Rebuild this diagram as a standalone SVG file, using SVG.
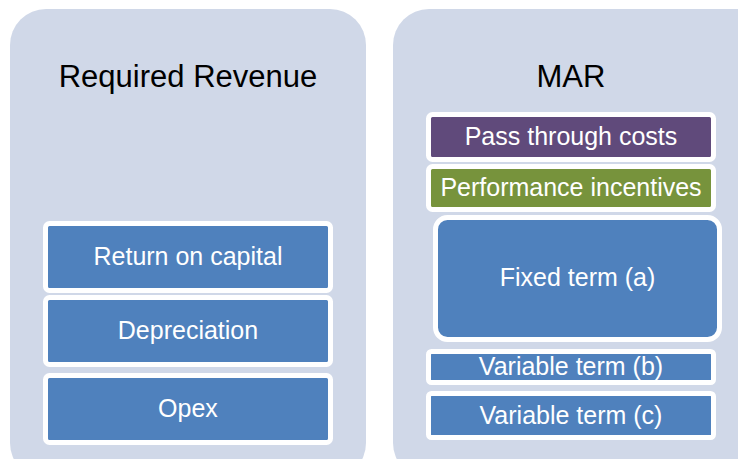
<svg xmlns="http://www.w3.org/2000/svg" width="738" height="459" viewBox="0 0 738 459">
<style>
.panel{fill:#D0D8E8}
.box{stroke:#FFFFFF;stroke-width:5}
.blue{fill:#4F81BD}
.purple{fill:#604A7B}
.green{fill:#77933C}
.title{font-family:"Liberation Sans",Arial,sans-serif;font-size:31px;fill:#000000;text-anchor:middle}
.lbl{font-family:"Liberation Sans",Arial,sans-serif;font-size:25px;fill:#FFFFFF;text-anchor:middle}
</style>
<rect width="738" height="459" fill="#FFFFFF"/>
<g id="panel-required-revenue">
<rect class="panel" x="10" y="9" width="356" height="470" rx="36" ry="36"/>
<text class="title" x="188" y="87">Required Revenue</text>
</g>
<g id="panel-mar">
<rect class="panel" x="393" y="9" width="380" height="470" rx="36" ry="36"/>
<text class="title" x="571" y="87">MAR</text>
</g>
<g id="return-on-capital">
<rect class="box blue" x="45.5" y="223.5" width="285" height="67" rx="4"/>
<text class="lbl" x="188" y="265">Return on capital</text>
</g>
<g id="depreciation">
<rect class="box blue" x="45.5" y="297.5" width="285" height="67" rx="4"/>
<text class="lbl" x="188" y="339">Depreciation</text>
</g>
<g id="opex">
<rect class="box blue" x="45.5" y="375.5" width="285" height="67" rx="4"/>
<text class="lbl" x="188" y="417">Opex</text>
</g>
<g id="pass-through-costs">
<rect class="box purple" x="428.5" y="114.5" width="285" height="45" rx="4"/>
<text class="lbl" x="571" y="145">Pass through costs</text>
</g>
<g id="performance-incentives">
<rect class="box green" x="428.5" y="166.5" width="285" height="43" rx="4"/>
<text class="lbl" x="571" y="196">Performance incentives</text>
</g>
<g id="fixed-term-a">
<rect class="box blue" x="435.5" y="217.5" width="284" height="122" rx="12"/>
<text class="lbl" x="577.5" y="286">Fixed term (a)</text>
</g>
<g id="variable-term-b">
<rect class="box blue" x="428.5" y="351.5" width="285" height="31" rx="3"/>
<text class="lbl" x="571" y="375">Variable term (b)</text>
</g>
<g id="variable-term-c">
<rect class="box blue" x="428.5" y="393.5" width="285" height="44" rx="3"/>
<text class="lbl" x="571" y="424">Variable term (c)</text>
</g>
<g id="connectors"></g>
</svg>
